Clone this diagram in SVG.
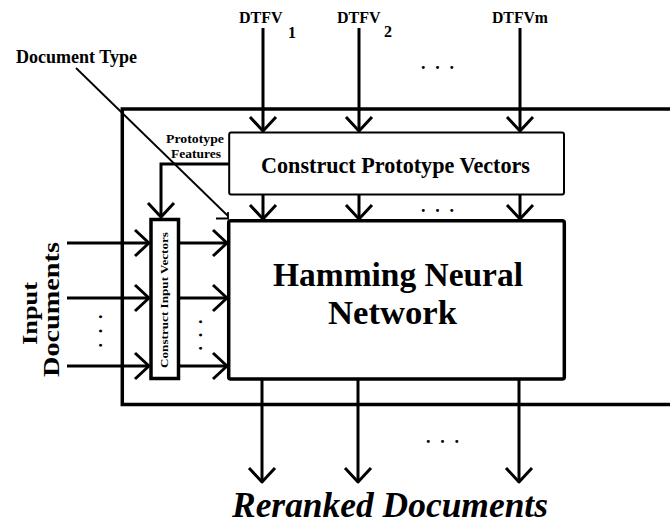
<svg xmlns="http://www.w3.org/2000/svg" width="670" height="526" viewBox="0 0 670 526">
  <style>
    text { font-family: "Liberation Serif", "Times New Roman", serif; font-weight: bold; fill: #000; }
    .box { fill: #fff; stroke: #000; }
    .wire { fill: none; stroke: #000; stroke-width: 3; }
    .thin { fill: none; stroke: #000; stroke-width: 1.8; }
  </style>
  <defs>
    <marker id="vee" markerUnits="userSpaceOnUse" markerWidth="40" markerHeight="40" viewBox="-20 -20 40 40" refX="0" refY="0" orient="auto" overflow="visible">
      <path d="M-14,-13 L0,0 L-14,13" fill="none" stroke="#000" stroke-width="3" stroke-linejoin="round"/>
    </marker>
  </defs>

  <rect width="670" height="526" fill="#fff"/>

  <!-- outer enclosure (open to the right) -->
  <path id="frame" d="M670,109 H122.3 V404.5 H670" fill="none" stroke="#000" stroke-width="3.5"/>

  <g id="proto-box">
    <rect class="box" x="229.2" y="132.5" width="334.8" height="62" rx="2" stroke-width="2"/>
    <text x="261" y="173" font-size="24" textLength="269" lengthAdjust="spacingAndGlyphs">Construct Prototype Vectors</text>
  </g>

  <g id="hamming">
    <rect class="box" x="228.7" y="220.7" width="335.6" height="158.3" rx="2" stroke-width="3.5"/>
    <text x="273" y="286" font-size="34" textLength="250" lengthAdjust="spacingAndGlyphs">Hamming Neural</text>
    <text x="328" y="324" font-size="34" textLength="129" lengthAdjust="spacingAndGlyphs">Network</text>
  </g>

  <g id="input-box">
    <rect class="box" x="151" y="219.5" width="27.5" height="159" stroke-width="3.5"/>
    <text transform="translate(168,300) rotate(-90)" font-size="11" text-anchor="middle" textLength="136" lengthAdjust="spacingAndGlyphs">Construct Input Vectors</text>
  </g>

  <g id="labels">
    <text x="239" y="23" font-size="16">DTFV<tspan x="288" y="38">1</tspan></text>
    <text x="337" y="23" font-size="16">DTFV<tspan x="384" y="37">2</tspan></text>
    <text x="492" y="23" font-size="16" textLength="56" lengthAdjust="spacingAndGlyphs">DTFVm</text>
    <text x="16" y="63" font-size="19" textLength="121" lengthAdjust="spacingAndGlyphs">Document Type</text>
    <text x="166" y="143" font-size="13" textLength="58" lengthAdjust="spacingAndGlyphs">Prototype</text>
    <text x="171" y="158" font-size="13" textLength="50" lengthAdjust="spacingAndGlyphs">Features</text>
    <text transform="translate(37,313.5) rotate(-90)" font-size="22" text-anchor="middle" textLength="63" lengthAdjust="spacingAndGlyphs">Input</text>
    <text transform="translate(59,309.5) rotate(-90)" font-size="23" text-anchor="middle" textLength="135" lengthAdjust="spacingAndGlyphs">Documents</text>
    <text x="232" y="517" font-size="35" font-style="italic" textLength="316" lengthAdjust="spacingAndGlyphs">Reranked Documents</text>
    <!-- ellipses -->
    <text x="421" y="69" font-size="18" textLength="33" lengthAdjust="spacing">. . .</text>
    <text x="421" y="212" font-size="18" textLength="33" lengthAdjust="spacing">. . .</text>
    <text x="426" y="443" font-size="18" textLength="33" lengthAdjust="spacing">. . .</text>
    <text transform="translate(98.5,331) rotate(90)" font-size="18" text-anchor="middle" textLength="33" lengthAdjust="spacing">. . .</text>
    <text transform="translate(198.5,335) rotate(90)" font-size="18" text-anchor="middle" textLength="31" lengthAdjust="spacing">. . .</text>
  </g>

  <g id="connectors">
    <!-- feature vectors into prototype construction -->
    <path class="wire" d="M263,28 V131" stroke-width="2.6" marker-end="url(#vee)"/>
    <path class="wire" d="M359,28 V131" stroke-width="2.6" marker-end="url(#vee)"/>
    <path class="wire" d="M520,28 V131" stroke-width="2.6" marker-end="url(#vee)"/>
    <!-- prototypes into the network -->
    <path class="wire" d="M263,195 V219" stroke-width="2.6" marker-end="url(#vee)"/>
    <path class="wire" d="M359,195 V219" stroke-width="2.6" marker-end="url(#vee)"/>
    <path class="wire" d="M520,195 V219" stroke-width="2.6" marker-end="url(#vee)"/>
    <!-- prototype features fed back to input construction -->
    <path class="wire" d="M229,164 H161 V217" marker-end="url(#vee)"/>
    <!-- input documents -->
    <path class="wire" d="M67,243 H149" marker-end="url(#vee)"/>
    <path class="wire" d="M67,298 H149" marker-end="url(#vee)"/>
    <path class="wire" d="M67,366 H149" marker-end="url(#vee)"/>
    <!-- input vectors into the network -->
    <path class="wire" d="M180,243 H227" marker-end="url(#vee)"/>
    <path class="wire" d="M180,298 H227" marker-end="url(#vee)"/>
    <path class="wire" d="M180,366 H227" marker-end="url(#vee)"/>
    <!-- reranked outputs -->
    <path class="wire" d="M262,380 V482" stroke-width="2.6" marker-end="url(#vee)"/>
    <path class="wire" d="M358,380 V482" stroke-width="2.6" marker-end="url(#vee)"/>
    <path class="wire" d="M519,380 V482" stroke-width="2.6" marker-end="url(#vee)"/>
    <!-- document type pointer -->
    <path class="thin" d="M76,68 L228,216"/>
    <path class="thin" d="M216,218.5 H229 M228,212 V219" stroke-width="2"/>
  </g>
</svg>
